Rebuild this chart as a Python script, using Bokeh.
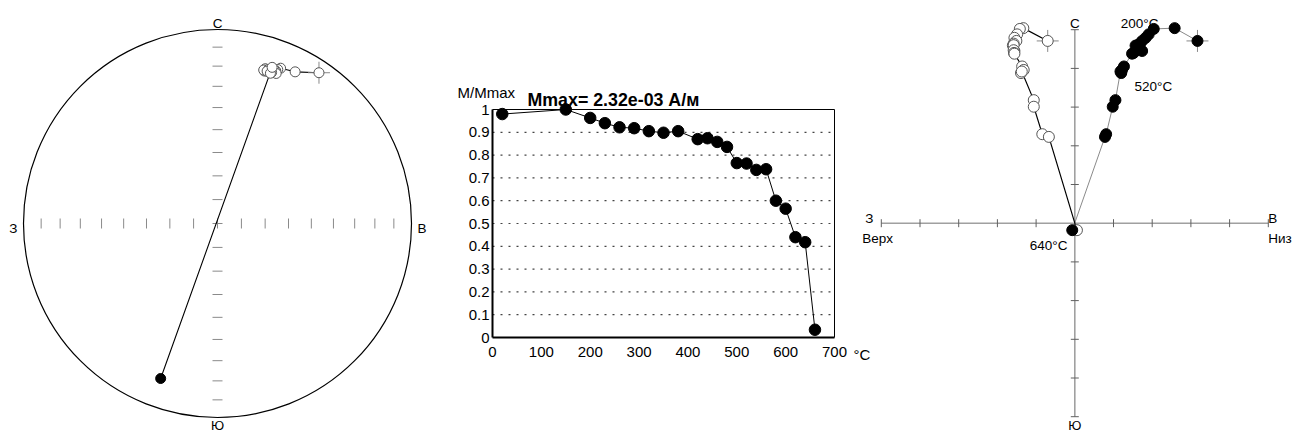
import numpy as np
from bokeh.plotting import figure
from bokeh.layouts import row
from bokeh.models import Range1d, Label
from bokeh.embed import file_html
from bokeh.resources import INLINE
from bokeh.core.properties import value

FONT = "Liberation Sans"

# ---------------- data ----------------
# thermal demagnetisation steps (°C)
temps = [20, 150, 200, 230, 260, 290, 320, 350, 380, 420, 440,
         460, 480, 500, 520, 540, 560, 580, 600, 620, 640, 660]
# normalised magnetisation M/Mmax
m_norm = [0.98, 1.0, 0.963, 0.94, 0.922, 0.918, 0.905, 0.898, 0.905, 0.870, 0.874,
          0.858, 0.836, 0.765, 0.763, 0.735, 0.738, 0.60, 0.565, 0.44, 0.418, 0.034]

# vector components for the Zijderveld plot (East, North, Down)
comp_e = [3.17, 2.58, 2.04, 1.91, 1.83, 1.74, 1.68, 1.57, 1.62, 1.74, 1.60,
          1.52, 1.48, 1.27, 1.22, 1.20, 1.18, 1.05, 0.98, 0.81, 0.78, -0.066]
comp_n = [4.71, 5.04, 5.02, 4.88, 4.79, 4.71, 4.64, 4.59, 4.60, 4.45, 4.47,
          4.40, 4.38, 4.05, 3.96, 3.88, 3.92, 3.18, 3.01, 2.30, 2.23, -0.18]
comp_d = [-0.70, -1.33, -1.42, -1.49, -1.56, -1.51, -1.58, -1.60, -1.58, -1.56, -1.58,
          -1.57, -1.56, -1.36, -1.32, -1.39, -1.37, -1.06, -1.06, -0.84, -0.67, 0.055]

# stereonet tick inclinations
stereo_tick_inc = [80, 70, 60, 50, 40, 30, 20, 10]
# Zijderveld axis ticks
zij_ticks = [-5, -4, -3, -2, -1, 1, 2, 3, 4, 5]

# demag axis ticks
x_ticks = [0, 100, 200, 300, 400, 500, 600, 700]
x_tick_labels = ["0", "100", "200", "300", "400", "500", "600", "700"]
y_ticks = [0, 0.1, 0.2, 0.3, 0.4, 0.5, 0.6, 0.7, 0.8, 0.9, 1]
y_tick_labels = ["0", "0.1", "0.2", "0.3", "0.4", "0.5", "0.6", "0.7", "0.8", "0.9", "1"]
grid_ticks = [0.1, 0.2, 0.3, 0.4, 0.5, 0.6, 0.7, 0.8, 0.9]

E = np.array(comp_e); N = np.array(comp_n); D = np.array(comp_d)

W1, W2, W3 = 438, 410, 448
H = 432
LBL = "13.5px"


def lab(p, x, y, text, size=LBL, align="center", baseline="alphabetic",
        dx=0, dy=0, bold=False):
    p.add_layout(Label(x=x, y=y, text=text, text_font=FONT, text_font_size=size,
                       text_align=align, text_baseline=baseline, x_offset=dx,
                       y_offset=dy, text_color="black",
                       text_font_style="bold" if bold else "normal"))


def bare(width, xr, yr):
    p = figure(width=width, height=H, output_backend="svg", toolbar_location=None,
               x_range=Range1d(*xr), y_range=Range1d(*yr),
               x_axis_type=None, y_axis_type=None, min_border=0,
               outline_line_color=None)
    return p


# ---------------- panel 1 : stereonet ----------------
R = 194.0
cx1, cy1 = 217.0, 223.0
p1 = bare(W1, (-cx1 / R, (W1 - cx1) / R), (-(H - cy1) / R, cy1 / R))

p1.circle(x=[0], y=[0], radius=1.0, fill_color=None, line_color="black", line_width=1.2)

rt = np.sqrt(2) * np.sin(np.radians((90 - np.array(stereo_tick_inc)) / 2.0))
p1.scatter(x=np.zeros(len(rt) * 2), y=np.concatenate([rt, -rt]), marker="dash",
           size=10, angle=0, line_color="#8a8a8a", line_width=1)
p1.scatter(x=np.concatenate([rt, -rt]), y=np.zeros(len(rt) * 2), marker="dash",
           size=10, angle=np.pi / 2, line_color="#8a8a8a", line_width=1)
p1.scatter(x=[0, 0], y=[0, 0], marker="dash", size=10, angle=[0, np.pi / 2],
           line_color="#8a8a8a", line_width=1)

dec = np.arctan2(E, N)
H_ = np.sqrt(E ** 2 + N ** 2)
inc = np.degrees(np.arctan2(D, H_))
r = np.sqrt(2) * np.sin(np.radians((90 - np.abs(inc)) / 2.0))
sx = r * np.sin(dec)
sy = r * np.cos(dec)
up = inc < 0

p1.line(sx, sy, line_color="black", line_width=1.1)
p1.scatter(sx[:1], sy[:1], marker="cross", size=22, line_color="#888888", line_width=1)
p1.scatter(sx[up], sy[up], size=10, fill_color="white", line_color="#555555", line_width=1)
p1.scatter(sx[~up], sy[~up], size=10, fill_color="black", line_color="black")

lab(p1, 0, 1, "С", dy=6)
lab(p1, -1, 0, "З", align="right", dx=-6, dy=-5)
lab(p1, 1, 0, "В", align="left", dx=6, dy=-5)
lab(p1, 0, -1, "Ю", size="13px", dy=-8)

# ---------------- panel 2 : demagnetisation curve ----------------
PX_X = 342.0 / 700.0      # px per degree
PX_Y = 228.0              # px per unit M/Mmax
ox2, oy2 = 54.0, 337.0    # position of (0, 0) inside the figure
p2 = bare(W2, (-ox2 / PX_X, (W2 - ox2) / PX_X), (-(H - oy2) / PX_Y, oy2 / PX_Y))

x0, x1 = min(x_ticks), max(x_ticks)
y0, y1 = min(y_ticks), max(y_ticks)
p2.segment(x0=x0, x1=x1, y0=grid_ticks, y1=grid_ticks, line_color="#444444",
           line_dash="2 6", line_width=1.2)
p2.segment(x0=[x0, x1], x1=[x1, x1], y0=[y1, y0], y1=[y1, y1], line_color="black",
           line_width=1)
p2.segment(x0=[x0, x0], x1=[x1, x0], y0=[y0, y0], y1=[y0, y1], line_color="black",
           line_width=2)

p2.text(x=x_ticks, y=[y0] * len(x_ticks), text=x_tick_labels, text_font=value(FONT),
        text_font_size="15px", text_align="center", text_baseline="top", y_offset=9.5,
        text_color="black")
p2.text(x=[x0] * len(y_ticks), y=y_ticks, text=y_tick_labels, text_font=value(FONT),
        text_font_size="15px", text_align="right", text_baseline="middle", x_offset=-3,
        text_color="black")

p2.line(temps, m_norm, line_color="black", line_width=1)
p2.scatter(temps, m_norm, size=11.5, fill_color="black", line_color="black")

lab(p2, x0, y1, "M/Mmax", size="15px", align="left", dx=-35, dy=17)
lab(p2, x0, y1, "Mmax= 2.32e-03  А/м", size="17.8px", align="left", dx=35, dy=10, bold=True)

# ---------------- panel 3 : Zijderveld ----------------
U = 38.7
cx3, cy3 = 226.3, 222.7
p3 = bare(W3, (-cx3 / U, (W3 - cx3) / U), (-(H - cy3) / U, cy3 / U))

zt = np.array(zij_ticks, dtype=float)
p3.line([zt.min(), zt.max()], [0, 0], line_color="#a0a0a0", line_width=1.6)
p3.line([0, 0], [zt.min(), zt.max()], line_color="#a0a0a0", line_width=1.6)
p3.scatter(zt, np.zeros(len(zt)), marker="dash", size=8, angle=np.pi / 2,
           line_color="#606060", line_width=1)
p3.scatter(np.zeros(len(zt)), zt, marker="dash", size=8, angle=0,
           line_color="#606060", line_width=1)

# horizontal projection (E, N) - filled; vertical projection (Down, N) - open
p3.line(E, N, line_color="#8a8a8a", line_width=1)
p3.line(D, N, line_color="black", line_width=1.2)
p3.scatter([E[0], D[0]], [N[0], N[0]], marker="cross", size=22,
           line_color="#888888", line_width=1)
p3.scatter(D, N, size=11, fill_color="white", line_color="#555555", line_width=1)
p3.scatter(E, N, size=11, fill_color="black", line_color="black")

i200 = temps.index(200)
i520 = temps.index(520)
lab(p3, E[i200], N[i200], "200°C", align="right", dx=4.7, dy=5.3)
lab(p3, E[i520], N[i520], "520°C", align="left", dx=12.5, dy=-16.3)
lab(p3, 0, 0, "640°C", align="right", dx=-7.3, dy=-22.3)
lab(p3, 0, 5, "С", dy=6)
lab(p3, 0, -5, "Ю", size="13px", dy=-8.8)
lab(p3, -5, 0, "З", dx=-12, dy=5)
lab(p3, -5, 0, "Верх", align="left", dx=-19, dy=-15)
lab(p3, 5, 0, "В", align="left", dx=0, dy=5)
lab(p3, 5, 0, "Низ", align="left", dx=0, dy=-15)
# unit of the demagnetisation axis (sits just right of the 700 tick)
lab(p3, -5, 0, "°C", size="15px", align="left", dx=-27.8, dy=-131)

layout = row(p1, p2, p3)
open("out.html", "w").write(file_html(layout, INLINE))
